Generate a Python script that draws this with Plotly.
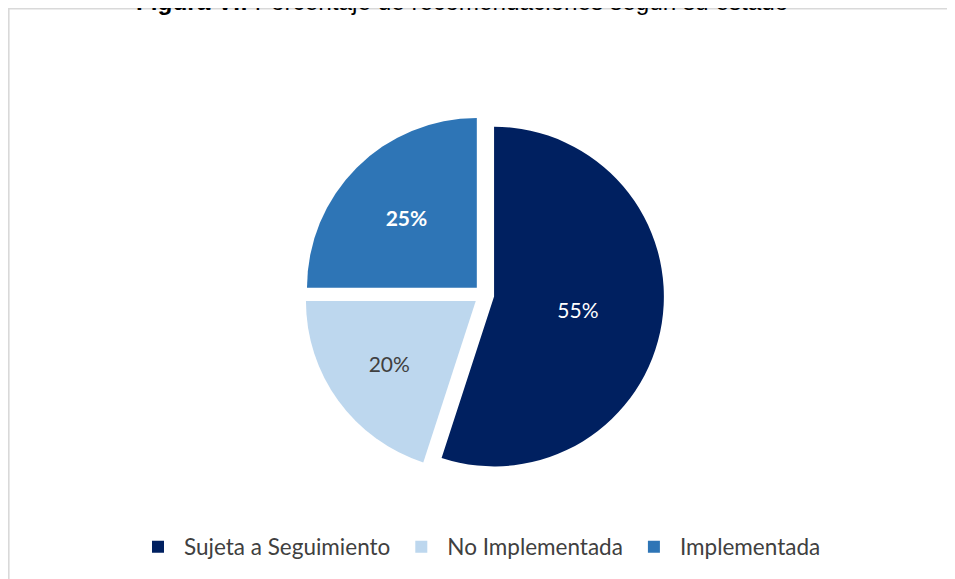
import plotly.graph_objects as go

categories = ["Sujeta a Seguimiento", "No Implementada", "Implementada"]
values = [55, 20, 25]
colors = ["#002060", "#BDD7EE", "#2E75B6"]
text_colors = ["#FFFFFF", "#404040", "#FFFFFF"]
text_templates = ["%{percent}", "%{percent}", "<b>%{percent}</b>"]
title_bold = "Figura VI:"
title_rest = " Porcentaje de recomendaciones según su estado"

W, H = 955, 579

fig = go.Figure(
    go.Pie(
        labels=categories,
        values=values,
        sort=False,
        direction="clockwise",
        rotation=0,
        pull=[0.06, 0.06, 0.06],
        marker=dict(colors=colors, line=dict(width=0)),
        texttemplate=text_templates,
        textposition="inside",
        insidetextorientation="horizontal",
        textfont=dict(family="Lato", size=21, color=text_colors),
        domain=dict(x=[296 / W, 656 / W], y=[112 / H, 472 / H]),
        hoverinfo="label+percent",
    )
)

fig.add_annotation(
    xref="paper", yref="paper",
    x=126 / W, y=1, xanchor="left", yanchor="bottom", yshift=-9,
    text=f"<b>{title_bold}</b>{title_rest}",
    showarrow=False,
    font=dict(family="Liberation Sans", size=24.3, color="#000000"),
)

fig.add_shape(
    type="rect", xref="paper", yref="paper",
    x0=0.8 / W, x1=1.02, y0=-0.02, y1=1 - 0.8 / H,
    line=dict(color="#D9D9D9", width=1.6),
    fillcolor="rgba(0,0,0,0)",
)

fig.update_layout(
    width=W, height=H,
    margin=dict(l=0, r=0, t=0, b=0),
    paper_bgcolor="#FFFFFF",
    plot_bgcolor="#FFFFFF",
    showlegend=True,
    legend=dict(
        orientation="h",
        x=124 / W, xanchor="left",
        y=40 / H, yanchor="middle",
        itemwidth=42,
        font=dict(family="Lato", size=22.5, color="#404040"),
        bgcolor="rgba(0,0,0,0)",
        itemclick=False,
    ),
)

fig.write_html("out.html")
